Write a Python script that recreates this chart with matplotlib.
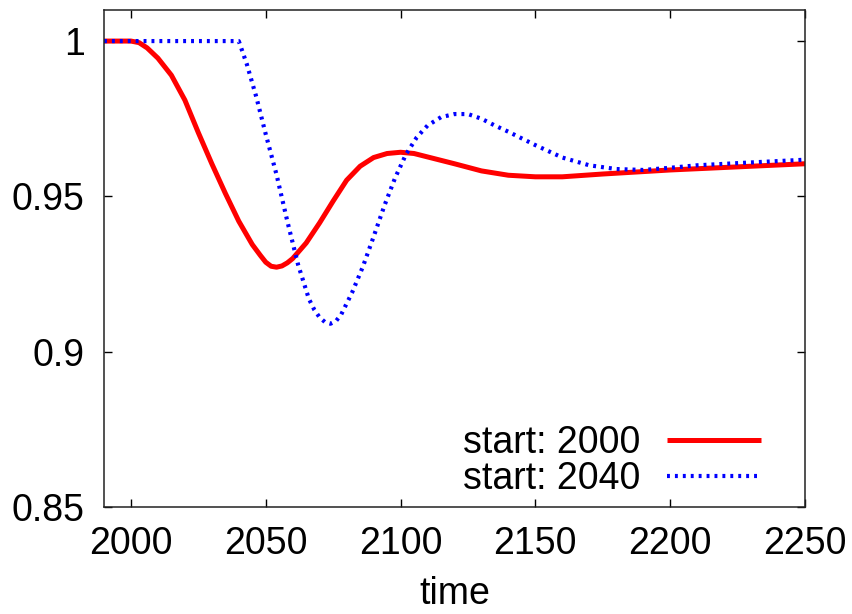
import matplotlib
matplotlib.use('Agg')
import matplotlib.pyplot as plt
import numpy as np

# start: 2000 (red, solid)
years_a = [1990, 2000, 2003, 2006, 2010, 2015, 2020, 2025, 2030, 2035, 2040,
           2045, 2048, 2050, 2052, 2054, 2056, 2058, 2060, 2065, 2070, 2075,
           2080, 2085, 2090, 2095, 2100, 2105, 2110, 2120, 2130, 2140, 2150,
           2160, 2175, 2200, 2225, 2250]
vals_a = [1.0, 1.0, 0.9995, 0.9978, 0.9945, 0.9890, 0.9810, 0.9705, 0.9605,
          0.9510, 0.9420, 0.9345, 0.9310, 0.9288, 0.9275, 0.9272, 0.9276,
          0.9286, 0.9300, 0.9350, 0.9415, 0.9485, 0.9552, 0.9597, 0.9625,
          0.9638, 0.9642, 0.9638, 0.9627, 0.9605, 0.9582, 0.9568, 0.9563,
          0.9563, 0.9572, 0.9585, 0.9595, 0.9605]

# start: 2040 (blue, dotted)
years_b = [1990, 2040, 2043, 2046.5, 2050, 2054, 2058, 2062, 2066, 2068, 2070,
           2072, 2074, 2076, 2078, 2082, 2086, 2090, 2094, 2098, 2102, 2106,
           2110, 2115, 2120, 2125, 2130, 2135, 2140, 2150, 2160, 2170, 2180,
           2190, 2200, 2210, 2225, 2250]
vals_b = [1.0, 1.0, 0.9925, 0.982, 0.970, 0.957, 0.942, 0.928, 0.917, 0.9135,
          0.911, 0.9095, 0.909, 0.9098, 0.912, 0.919, 0.9273, 0.937, 0.947,
          0.956, 0.9635, 0.969, 0.9728, 0.9755, 0.9765, 0.9765, 0.9750,
          0.9728, 0.9708, 0.9665, 0.9625, 0.960, 0.9588, 0.9585, 0.9592,
          0.960, 0.9607, 0.9618]

labels = ['start: 2000', 'start: 2040']
x_ticks = [2000, 2050, 2100, 2150, 2200, 2250]
y_ticks = [0.85, 0.9, 0.95, 1.0]
y_ticklabels = ['0.85', '0.9', '0.95', '1']

plt.rcParams['font.family'] = ['Liberation Sans', 'DejaVu Sans']
fs = 27

fig = plt.figure(figsize=(8.53, 6.14), dpi=100)
ax = fig.add_axes([0.1219, 0.1743, 0.8218, 0.8094])

ax.plot(years_a, vals_a, color='#ff0000', lw=3.6, solid_capstyle='butt',
        solid_joinstyle='round', label=labels[0])
ax.plot(years_b, vals_b, color='#0000ff', lw=3.0,
        linestyle=(0, (0.7, 1.2)), label=labels[1])

ax.set_xlim(1990, 2250)
ax.set_ylim(0.85, 1.01)
ax.set_xticks(x_ticks)
ax.set_yticks(y_ticks)
ax.set_yticklabels(y_ticklabels)
ax.tick_params(direction='in', length=6, width=1, top=True, right=True,
               labelsize=fs, pad=14, colors='black')
for s in ax.spines.values():
    s.set_linewidth(1.1)
    s.set_color('#222222')

ax.set_xlabel('time', fontsize=fs, labelpad=10)

ax.legend(loc='lower right', bbox_to_anchor=(0.937, 0.02), frameon=False,
          fontsize=fs, markerfirst=False, handlelength=2.5,
          handletextpad=0.7, labelspacing=0.0, borderpad=0,
          borderaxespad=0)

fig.savefig('out.png', dpi=100)
